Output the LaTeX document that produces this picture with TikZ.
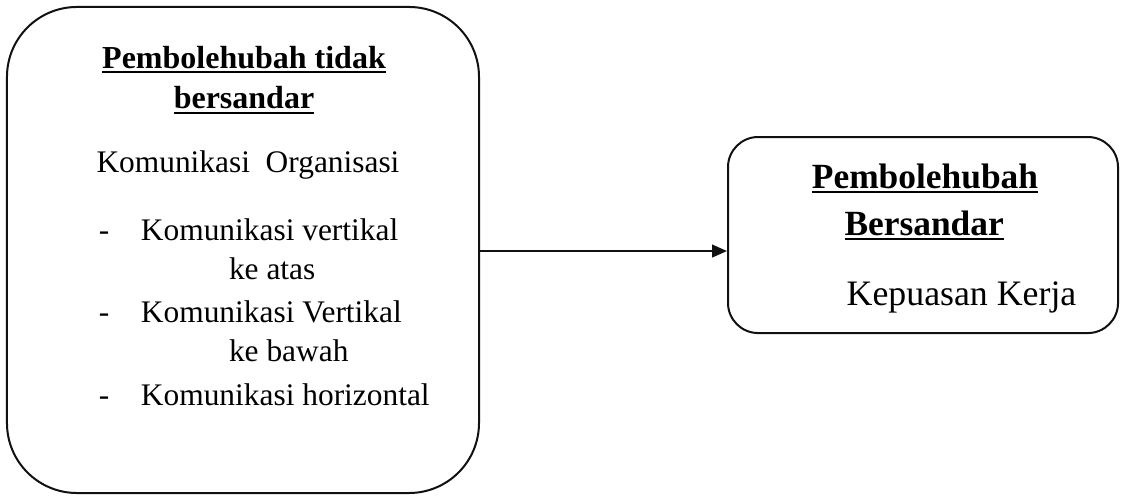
\documentclass[tikz,border=0pt]{standalone}
\usepackage{fontspec}
\setmainfont{Liberation Serif}
\usetikzlibrary{arrows.meta, positioning}
\definecolor{cink}{HTML}{111111}
\tikzset{
  every picture/.style={line width=1pt},
  varbox/.style={draw=cink, inner sep=0pt, minimum width=#1},
  arrow/.style={-{Triangle[length=2.6mm, width=2.2mm]}, draw=cink, line width=1pt},
  head/.style={font=\fontsize{16}{19}\selectfont\bfseries, anchor=base, inner sep=0pt},
  body/.style={font=\fontsize{15.7}{19}\selectfont, anchor=base, inner sep=0pt},
  item/.style={body, anchor=base west},
  rhead/.style={head, font=\fontsize{17.7}{21}\selectfont\bfseries},
  rbody/.style={body, font=\fontsize{17.9}{21}\selectfont},
}

\begin{document}
\begin{tikzpicture}
  \useasboundingbox (0,0) rectangle (19.752,-8.716);
  \newcommand{\ul}[1]{\vtop{\hbox{#1}\kern1.4pt\hrule height 1.1pt}}

  % independent variable
  \node[varbox=8.295cm, minimum height=8.541cm, rounded corners=1.23cm] (indep) at (4.270,-4.393) {};
  \node[head] (t1) at (4.288,-1.195) {\ul{Pembolehubah tidak}};
  \node[head] (t2) at (4.288,-1.915) {\ul{bersandar}};
  \node[body] (ko) at (4.358,-3.040) {Komunikasi\ \ Organisasi};
  \node[item] (d1) at (1.722,-4.218) {-};
  \node[item] (i1) at (2.460,-4.218) {Komunikasi vertikal};
  \node[item] (i1b) at (4.007,-4.920) {ke atas};
  \node[item] (d2) at (1.722,-5.659) {-};
  \node[item] (i2) at (2.460,-5.659) {Komunikasi Vertikal};
  \node[item] (i2b) at (4.007,-6.361) {ke bawah};
  \node[item] (d3) at (1.722,-7.117) {-};
  \node[item] (i3) at (2.460,-7.117) {Komunikasi horizontal};

  % dependent variable
  \node[varbox=6.854cm, minimum height=3.445cm, rounded corners=0.53cm] (dep) at (16.220,-4.130) {};
  \node[rhead] (r1) at (16.255,-3.304) {\ul{Pembolehubah}};
  \node[rhead] (r2) at (16.240,-4.130) {\ul{Bersandar}};
  \node[rbody] (kk) at (16.897,-5.360) {Kepuasan Kerja};

  \coordinate (lvl) at (0,-4.411);
  \draw[arrow] (indep.east |- lvl) -- (dep.west |- lvl);
\end{tikzpicture}
\end{document}
